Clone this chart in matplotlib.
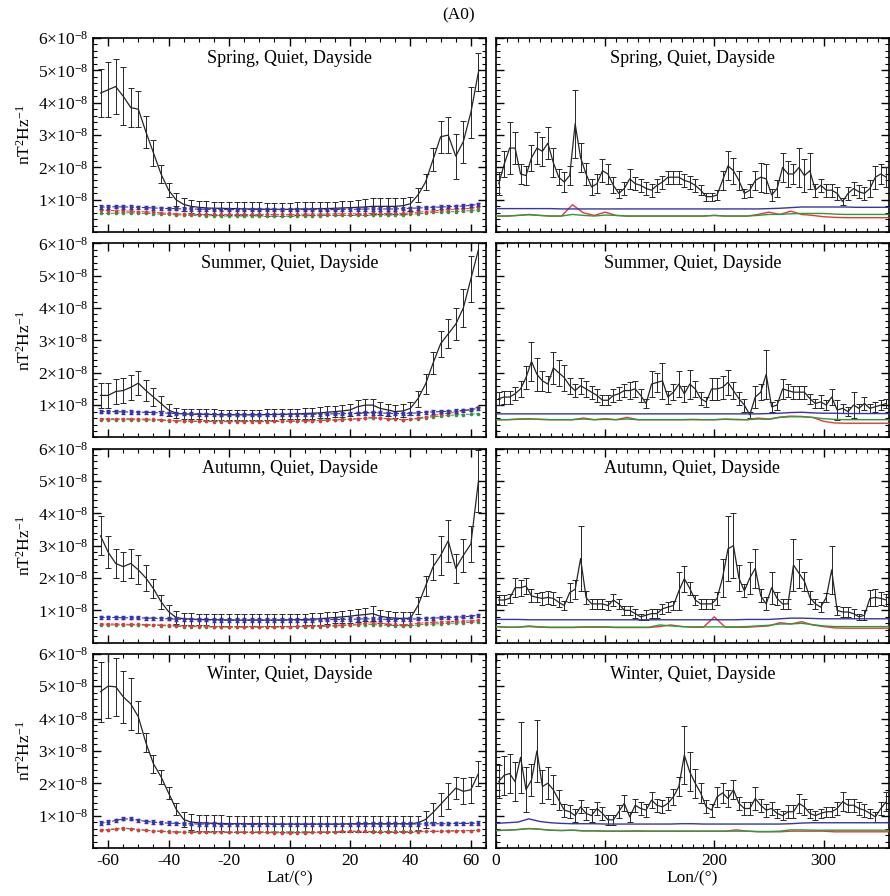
import numpy as np
import matplotlib
matplotlib.use("Agg")
import matplotlib.pyplot as plt
from matplotlib.ticker import MultipleLocator

plt.rcParams['font.family'] = ['Liberation Serif', 'DejaVu Serif']
plt.rcParams['mathtext.fontset'] = 'custom'
plt.rcParams['mathtext.rm'] = 'Liberation Serif'
plt.rcParams['mathtext.it'] = 'Liberation Serif:italic'
plt.rcParams['axes.unicode_minus'] = False

# grids
lat = np.arange(-62.5, 62.6, 2.5)      # 51 latitude bins
lon = np.arange(2.5, 360, 5)           # 72 longitude bins
lon_c = np.arange(0, 361, 10)          # coarse grid for the colored lon curves

seasons = ["Spring", "Summer", "Autumn", "Winter"]
yticks = [1, 2, 3, 4, 5, 6]            # in units of 1e-8

# ---------------- latitude profiles (1e-8 nT^2/Hz) ----------------
spring_lat_k = [4.30, 4.40, 4.50, 4.20, 3.85, 3.80, 3.10, 2.45, 1.80, 1.30,
                1.00, 0.86, 0.80, 0.77, 0.75, 0.74, 0.74, 0.73, 0.73, 0.72,
                0.72, 0.72, 0.71, 0.71, 0.71, 0.71, 0.72, 0.72, 0.72, 0.73,
                0.73, 0.74, 0.75, 0.76, 0.77, 0.78, 0.80, 0.80, 0.80, 0.80,
                0.82, 0.88, 1.15, 1.55, 2.25, 2.95, 3.00, 2.35, 2.80, 3.70,
                4.95]
spring_lat_e = [0.75, 0.85, 0.85, 0.90, 0.60, 0.55, 0.50, 0.40, 0.28, 0.22,
                0.20, 0.20, 0.20, 0.20, 0.20, 0.20, 0.20, 0.20, 0.20, 0.20,
                0.20, 0.20, 0.20, 0.20, 0.20, 0.20, 0.20, 0.20, 0.20, 0.20,
                0.20, 0.20, 0.22, 0.22, 0.22, 0.24, 0.25, 0.25, 0.25, 0.25,
                0.25, 0.22, 0.22, 0.25, 0.35, 0.50, 0.55, 0.70, 0.65, 0.80,
                0.60]
spring_lat_b = [0.78, 0.78, 0.79, 0.78, 0.78, 0.77, 0.76, 0.75, 0.74, 0.73,
                0.73, 0.72, 0.72, 0.71, 0.71, 0.70, 0.70, 0.70, 0.70, 0.70,
                0.70, 0.70, 0.70, 0.70, 0.70, 0.70, 0.70, 0.70, 0.70, 0.70,
                0.70, 0.70, 0.71, 0.71, 0.71, 0.72, 0.72, 0.72, 0.72, 0.72,
                0.73, 0.74, 0.75, 0.76, 0.77, 0.78, 0.79, 0.80, 0.81, 0.83,
                0.86]
spring_lat_r = [0.68, 0.67, 0.67, 0.66, 0.65, 0.64, 0.63, 0.62, 0.60, 0.58,
                0.57, 0.56, 0.56, 0.55, 0.55, 0.55, 0.55, 0.55, 0.55, 0.55,
                0.55, 0.55, 0.55, 0.55, 0.55, 0.55, 0.55, 0.56, 0.56, 0.56,
                0.56, 0.57, 0.57, 0.57, 0.57, 0.57, 0.58, 0.58, 0.58, 0.58,
                0.58, 0.60, 0.62, 0.64, 0.66, 0.68, 0.70, 0.71, 0.72, 0.74,
                0.78]
spring_lat_g = [0.58, 0.58, 0.59, 0.60, 0.60, 0.59, 0.58, 0.57, 0.56, 0.55,
                0.54, 0.53, 0.52, 0.52, 0.51, 0.51, 0.50, 0.50, 0.50, 0.50,
                0.50, 0.50, 0.50, 0.50, 0.50, 0.50, 0.50, 0.51, 0.51, 0.51,
                0.52, 0.52, 0.52, 0.52, 0.52, 0.52, 0.53, 0.53, 0.53, 0.53,
                0.53, 0.55, 0.57, 0.59, 0.61, 0.62, 0.63, 0.64, 0.65, 0.67,
                0.69]

summer_lat_k = [1.30, 1.30, 1.42, 1.45, 1.55, 1.68, 1.45, 1.25, 1.05, 0.85,
                0.75, 0.73, 0.72, 0.72, 0.71, 0.71, 0.70, 0.70, 0.70, 0.70,
                0.70, 0.70, 0.71, 0.71, 0.72, 0.72, 0.73, 0.74, 0.75, 0.76,
                0.78, 0.80, 0.82, 0.85, 0.95, 1.00, 1.00, 0.90, 0.85, 0.80,
                0.82, 0.90, 1.20, 1.65, 2.30, 2.90, 3.20, 3.50, 4.00, 4.90,
                5.80]
summer_lat_e = [0.38, 0.38, 0.38, 0.38, 0.38, 0.38, 0.32, 0.28, 0.22, 0.18,
                0.16, 0.16, 0.16, 0.16, 0.16, 0.16, 0.16, 0.16, 0.16, 0.16,
                0.16, 0.16, 0.16, 0.16, 0.16, 0.16, 0.16, 0.16, 0.17, 0.17,
                0.18, 0.18, 0.19, 0.19, 0.20, 0.20, 0.20, 0.20, 0.20, 0.20,
                0.20, 0.20, 0.25, 0.30, 0.35, 0.40, 0.45, 0.50, 0.60, 0.70,
                0.80]
summer_lat_b = [0.80, 0.80, 0.80, 0.79, 0.79, 0.78, 0.78, 0.77, 0.76, 0.75,
                0.74, 0.73, 0.73, 0.72, 0.72, 0.72, 0.71, 0.71, 0.71, 0.71,
                0.71, 0.71, 0.71, 0.71, 0.71, 0.71, 0.72, 0.72, 0.72, 0.72,
                0.73, 0.73, 0.74, 0.74, 0.75, 0.76, 0.76, 0.76, 0.75, 0.74,
                0.74, 0.75, 0.76, 0.78, 0.79, 0.80, 0.81, 0.82, 0.84, 0.86,
                0.90]
summer_lat_r = [0.58, 0.58, 0.58, 0.58, 0.58, 0.57, 0.57, 0.56, 0.55, 0.53,
                0.52, 0.51, 0.50, 0.50, 0.50, 0.49, 0.49, 0.49, 0.49, 0.49,
                0.49, 0.49, 0.49, 0.50, 0.50, 0.50, 0.50, 0.51, 0.51, 0.52,
                0.53, 0.54, 0.55, 0.56, 0.58, 0.60, 0.62, 0.60, 0.58, 0.56,
                0.55, 0.56, 0.60, 0.64, 0.68, 0.72, 0.75, 0.78, 0.82, 0.86,
                0.95]
summer_lat_g = [0.55, 0.55, 0.55, 0.55, 0.55, 0.55, 0.54, 0.54, 0.53, 0.52,
                0.52, 0.51, 0.51, 0.50, 0.50, 0.50, 0.50, 0.50, 0.50, 0.50,
                0.50, 0.50, 0.50, 0.50, 0.51, 0.51, 0.51, 0.52, 0.52, 0.53,
                0.54, 0.55, 0.56, 0.57, 0.58, 0.59, 0.60, 0.59, 0.58, 0.56,
                0.55, 0.56, 0.58, 0.61, 0.64, 0.66, 0.68, 0.70, 0.71, 0.72,
                0.74]

autumn_lat_k = [3.30, 2.80, 2.45, 2.35, 2.45, 2.25, 2.00, 1.67, 1.27, 0.96,
                0.78, 0.74, 0.73, 0.72, 0.72, 0.71, 0.71, 0.70, 0.70, 0.70,
                0.70, 0.70, 0.70, 0.70, 0.70, 0.71, 0.71, 0.72, 0.73, 0.74,
                0.76, 0.78, 0.80, 0.82, 0.85, 0.87, 0.90, 0.82, 0.78, 0.76,
                0.75, 0.76, 1.15, 1.75, 2.35, 2.70, 3.15, 2.30, 2.70, 3.05,
                5.00]
autumn_lat_e = [0.60, 0.50, 0.45, 0.45, 0.45, 0.45, 0.40, 0.30, 0.22, 0.20,
                0.20, 0.18, 0.18, 0.18, 0.18, 0.18, 0.18, 0.18, 0.18, 0.18,
                0.18, 0.18, 0.18, 0.18, 0.18, 0.18, 0.18, 0.18, 0.18, 0.18,
                0.18, 0.18, 0.18, 0.20, 0.20, 0.20, 0.22, 0.20, 0.20, 0.20,
                0.20, 0.20, 0.25, 0.30, 0.40, 0.60, 0.65, 0.45, 0.50, 0.55,
                0.95]
autumn_lat_b = [0.78, 0.78, 0.78, 0.77, 0.77, 0.77, 0.76, 0.76, 0.75, 0.74,
                0.73, 0.72, 0.72, 0.71, 0.71, 0.70, 0.70, 0.70, 0.70, 0.70,
                0.70, 0.70, 0.70, 0.70, 0.70, 0.70, 0.70, 0.70, 0.70, 0.71,
                0.71, 0.72, 0.72, 0.73, 0.73, 0.74, 0.74, 0.73, 0.72, 0.72,
                0.72, 0.73, 0.74, 0.75, 0.76, 0.77, 0.78, 0.79, 0.80, 0.82,
                0.85]
autumn_lat_r = [0.58, 0.58, 0.58, 0.57, 0.57, 0.57, 0.56, 0.56, 0.55, 0.54,
                0.53, 0.52, 0.52, 0.51, 0.51, 0.50, 0.50, 0.50, 0.50, 0.50,
                0.50, 0.50, 0.50, 0.50, 0.50, 0.50, 0.51, 0.51, 0.52, 0.52,
                0.53, 0.54, 0.55, 0.56, 0.58, 0.60, 0.62, 0.60, 0.58, 0.57,
                0.56, 0.57, 0.60, 0.62, 0.63, 0.64, 0.65, 0.66, 0.67, 0.68,
                0.70]
autumn_lat_g = [0.55, 0.55, 0.55, 0.55, 0.55, 0.55, 0.54, 0.54, 0.53, 0.52,
                0.51, 0.50, 0.50, 0.49, 0.49, 0.48, 0.48, 0.48, 0.48, 0.48,
                0.48, 0.48, 0.48, 0.48, 0.48, 0.49, 0.49, 0.49, 0.50, 0.50,
                0.51, 0.52, 0.53, 0.54, 0.55, 0.56, 0.56, 0.55, 0.54, 0.53,
                0.52, 0.53, 0.55, 0.57, 0.58, 0.59, 0.60, 0.61, 0.62, 0.63,
                0.65]

winter_lat_k = [4.83, 5.00, 4.98, 4.67, 4.45, 4.05, 3.25, 2.60, 2.20, 1.70,
                1.20, 0.88, 0.80, 0.78, 0.77, 0.76, 0.76, 0.75, 0.75, 0.75,
                0.75, 0.75, 0.75, 0.74, 0.74, 0.74, 0.74, 0.74, 0.74, 0.74,
                0.74, 0.74, 0.74, 0.75, 0.75, 0.75, 0.75, 0.75, 0.75, 0.75,
                0.75, 0.75, 0.78, 0.88, 1.10, 1.35, 1.60, 1.85, 1.75, 1.80,
                2.30]
winter_lat_e = [0.93, 0.98, 0.90, 0.80, 0.80, 0.50, 0.30, 0.28, 0.22, 0.18,
                0.18, 0.22, 0.24, 0.25, 0.25, 0.25, 0.25, 0.25, 0.25, 0.25,
                0.25, 0.25, 0.25, 0.25, 0.25, 0.25, 0.25, 0.25, 0.25, 0.25,
                0.25, 0.25, 0.25, 0.25, 0.25, 0.25, 0.25, 0.25, 0.25, 0.25,
                0.25, 0.25, 0.22, 0.25, 0.30, 0.35, 0.40, 0.35, 0.40, 0.40,
                0.40]
winter_lat_b = [0.77, 0.80, 0.85, 0.90, 0.90, 0.86, 0.82, 0.80, 0.78, 0.77,
                0.76, 0.75, 0.75, 0.74, 0.74, 0.74, 0.73, 0.73, 0.73, 0.73,
                0.73, 0.73, 0.73, 0.73, 0.73, 0.73, 0.73, 0.73, 0.73, 0.73,
                0.73, 0.73, 0.73, 0.73, 0.74, 0.74, 0.74, 0.74, 0.74, 0.74,
                0.74, 0.74, 0.74, 0.75, 0.75, 0.75, 0.75, 0.76, 0.76, 0.76,
                0.77]
winter_lat_r = [0.55, 0.57, 0.60, 0.62, 0.60, 0.57, 0.55, 0.53, 0.51, 0.50,
                0.49, 0.48, 0.48, 0.48, 0.48, 0.48, 0.48, 0.48, 0.48, 0.48,
                0.48, 0.48, 0.48, 0.47, 0.46, 0.46, 0.46, 0.47, 0.48, 0.48,
                0.49, 0.50, 0.51, 0.52, 0.52, 0.51, 0.50, 0.50, 0.50, 0.50,
                0.50, 0.50, 0.50, 0.51, 0.51, 0.52, 0.52, 0.53, 0.53, 0.54,
                0.55]
winter_lat_g = [0.55, 0.56, 0.58, 0.60, 0.59, 0.57, 0.55, 0.53, 0.52, 0.51,
                0.50, 0.50, 0.50, 0.50, 0.50, 0.50, 0.50, 0.50, 0.50, 0.50,
                0.50, 0.50, 0.50, 0.50, 0.50, 0.50, 0.50, 0.50, 0.50, 0.50,
                0.50, 0.50, 0.51, 0.51, 0.51, 0.51, 0.51, 0.51, 0.51, 0.51,
                0.51, 0.51, 0.51, 0.52, 0.52, 0.52, 0.53, 0.53, 0.54, 0.54,
                0.55]
blue_lat_err = 0.05

# ---------------- longitude profiles ----------------
spring_lon_k = [1.50, 2.10, 2.60, 2.60, 1.80, 1.75, 2.30, 2.60, 2.50, 2.75,
                2.15, 1.70, 1.55, 1.75, 3.35, 2.30, 1.80, 1.40, 1.50, 1.90,
                1.80, 1.45, 1.20, 1.35, 1.65, 1.50, 1.45, 1.35, 1.30, 1.45,
                1.55, 1.70, 1.70, 1.70, 1.60, 1.55, 1.45, 1.30, 1.10, 1.10,
                1.15, 1.60, 2.05, 1.90, 1.60, 1.20, 1.30, 1.60, 1.70, 1.65,
                1.15, 1.35, 2.00, 1.80, 1.80, 2.00, 1.75, 1.90, 1.30, 1.45,
                1.30, 1.30, 1.20, 0.95, 1.20, 1.35, 1.25, 1.20, 1.35, 1.70,
                1.80, 1.70]
spring_lon_e = [0.35, 0.40, 0.80, 0.50, 0.30, 0.30, 0.40, 0.50, 0.45, 0.50,
                0.45, 0.25, 0.30, 0.30, 1.05, 0.45, 0.35, 0.25, 0.30, 0.35,
                0.30, 0.25, 0.15, 0.20, 0.30, 0.20, 0.20, 0.20, 0.20, 0.20,
                0.20, 0.20, 0.20, 0.20, 0.20, 0.20, 0.20, 0.15, 0.12, 0.12,
                0.15, 0.30, 0.45, 0.40, 0.30, 0.15, 0.20, 0.30, 0.45, 0.45,
                0.20, 0.25, 0.45, 0.40, 0.30, 0.60, 0.50, 0.55, 0.20, 0.20,
                0.20, 0.20, 0.20, 0.10, 0.20, 0.20, 0.20, 0.20, 0.25, 0.35,
                0.30, 0.30]
spring_lon_b = [0.73, 0.73, 0.73, 0.73, 0.73, 0.73, 0.72, 0.72, 0.72, 0.72,
                0.72, 0.72, 0.72, 0.72, 0.72, 0.72, 0.72, 0.72, 0.72, 0.72,
                0.72, 0.72, 0.72, 0.72, 0.72, 0.73, 0.74, 0.76, 0.78, 0.78,
                0.78, 0.78, 0.78, 0.77, 0.77, 0.77, 0.77]
spring_lon_r = [0.50, 0.50, 0.52, 0.55, 0.52, 0.50, 0.50, 0.85, 0.60, 0.52,
                0.62, 0.52, 0.50, 0.50, 0.50, 0.50, 0.50, 0.50, 0.50, 0.50,
                0.52, 0.50, 0.50, 0.50, 0.55, 0.62, 0.55, 0.65, 0.55, 0.52,
                0.48, 0.46, 0.45, 0.45, 0.45, 0.45, 0.45]
spring_lon_g = [0.50, 0.50, 0.52, 0.54, 0.52, 0.50, 0.50, 0.55, 0.52, 0.50,
                0.53, 0.52, 0.50, 0.50, 0.50, 0.50, 0.50, 0.50, 0.50, 0.50,
                0.52, 0.50, 0.50, 0.50, 0.52, 0.55, 0.55, 0.57, 0.58, 0.58,
                0.58, 0.56, 0.55, 0.55, 0.55, 0.55, 0.55]

summer_lon_k = [1.20, 1.25, 1.25, 1.35, 1.50, 1.85, 2.35, 1.95, 1.75, 1.65,
                2.15, 2.00, 1.85, 1.60, 1.45, 1.60, 1.50, 1.40, 1.30, 1.15,
                1.15, 1.30, 1.35, 1.45, 1.45, 1.50, 1.30, 1.05, 1.65, 1.70,
                1.75, 1.25, 1.40, 1.65, 1.35, 1.65, 1.50, 1.20, 1.10, 1.50,
                1.50, 1.55, 1.70, 1.45, 1.20, 1.00, 0.70, 1.25, 1.40, 1.95,
                0.95, 1.00, 1.50, 1.45, 1.40, 1.40, 1.40, 1.20, 1.05, 1.10,
                1.00, 1.25, 0.85, 0.90, 0.80, 1.00, 0.90, 1.05, 0.90, 0.95,
                1.00, 1.05]
summer_lon_e = [0.20, 0.20, 0.20, 0.20, 0.25, 0.35, 0.60, 0.50, 0.30, 0.25,
                0.50, 0.40, 0.40, 0.25, 0.20, 0.25, 0.25, 0.20, 0.20, 0.15,
                0.15, 0.20, 0.20, 0.20, 0.25, 0.25, 0.20, 0.15, 0.40, 0.30,
                0.55, 0.20, 0.25, 0.40, 0.25, 0.45, 0.25, 0.20, 0.15, 0.35,
                0.35, 0.35, 0.40, 0.25, 0.20, 0.20, 0.10, 0.35, 0.25, 0.75,
                0.15, 0.15, 0.30, 0.20, 0.20, 0.20, 0.20, 0.15, 0.15, 0.20,
                0.15, 0.25, 0.30, 0.15, 0.15, 0.40, 0.15, 0.20, 0.15, 0.15,
                0.15, 0.15]
summer_lon_b = [0.73, 0.73, 0.73, 0.73, 0.73, 0.73, 0.73, 0.73, 0.73, 0.73,
                0.73, 0.73, 0.73, 0.73, 0.73, 0.73, 0.73, 0.73, 0.73, 0.73,
                0.73, 0.73, 0.73, 0.73, 0.73, 0.74, 0.75, 0.77, 0.78, 0.76,
                0.75, 0.75, 0.74, 0.74, 0.74, 0.74, 0.74]
summer_lon_r = [0.55, 0.55, 0.57, 0.58, 0.56, 0.55, 0.55, 0.55, 0.60, 0.55,
                0.58, 0.55, 0.62, 0.55, 0.55, 0.55, 0.55, 0.55, 0.56, 0.55,
                0.55, 0.57, 0.56, 0.55, 0.60, 0.57, 0.63, 0.66, 0.65, 0.62,
                0.50, 0.45, 0.44, 0.44, 0.44, 0.44, 0.44]
summer_lon_g = [0.55, 0.55, 0.56, 0.57, 0.56, 0.55, 0.55, 0.55, 0.57, 0.55,
                0.56, 0.55, 0.57, 0.55, 0.55, 0.55, 0.55, 0.55, 0.55, 0.55,
                0.55, 0.56, 0.55, 0.55, 0.57, 0.56, 0.62, 0.64, 0.64, 0.62,
                0.58, 0.56, 0.55, 0.55, 0.55, 0.55, 0.55]

autumn_lon_k = [1.32, 1.32, 1.37, 1.70, 1.70, 1.75, 1.45, 1.40, 1.37, 1.40,
                1.37, 1.25, 1.15, 1.55, 1.65, 2.60, 1.40, 1.20, 1.20, 1.20,
                1.15, 1.32, 1.20, 1.00, 1.00, 0.90, 0.80, 0.85, 0.90, 0.90,
                1.05, 1.10, 1.15, 1.60, 1.98, 1.68, 1.32, 1.20, 1.20, 1.20,
                1.37, 2.00, 2.90, 3.00, 2.00, 1.60, 2.00, 2.30, 1.45, 1.20,
                1.70, 1.37, 1.20, 1.20, 2.40, 2.15, 1.90, 1.40, 1.20, 1.10,
                1.40, 2.25, 1.00, 0.95, 0.95, 0.90, 0.80, 0.85, 1.37, 1.40,
                1.37, 1.32]
autumn_lon_e = [0.15, 0.15, 0.15, 0.30, 0.25, 0.25, 0.20, 0.15, 0.20, 0.20,
                0.20, 0.15, 0.15, 0.30, 0.30, 1.00, 0.20, 0.15, 0.15, 0.15,
                0.15, 0.20, 0.15, 0.15, 0.15, 0.15, 0.10, 0.15, 0.15, 0.15,
                0.15, 0.15, 0.15, 0.60, 0.40, 0.20, 0.15, 0.15, 0.15, 0.15,
                0.20, 0.60, 1.00, 1.00, 0.40, 0.20, 0.50, 0.60, 0.20, 0.20,
                0.50, 0.20, 0.15, 0.15, 0.80, 0.45, 0.30, 0.20, 0.15, 0.15,
                0.15, 0.75, 0.15, 0.15, 0.15, 0.15, 0.10, 0.15, 0.25, 0.25,
                0.20, 0.20]
autumn_lon_b = [0.72, 0.72, 0.72, 0.71, 0.71, 0.71, 0.71, 0.71, 0.71, 0.71,
                0.71, 0.71, 0.71, 0.71, 0.71, 0.71, 0.71, 0.71, 0.71, 0.71,
                0.71, 0.71, 0.71, 0.72, 0.72, 0.72, 0.74, 0.76, 0.76, 0.75,
                0.74, 0.74, 0.74, 0.74, 0.74, 0.74, 0.74]
autumn_lon_r = [0.50, 0.48, 0.48, 0.50, 0.48, 0.47, 0.47, 0.47, 0.48, 0.48,
                0.48, 0.47, 0.47, 0.47, 0.47, 0.50, 0.55, 0.50, 0.48, 0.48,
                0.80, 0.48, 0.48, 0.48, 0.50, 0.52, 0.62, 0.58, 0.65, 0.55,
                0.50, 0.46, 0.45, 0.45, 0.45, 0.45, 0.45]
autumn_lon_g = [0.50, 0.48, 0.48, 0.52, 0.49, 0.48, 0.48, 0.48, 0.49, 0.49,
                0.49, 0.48, 0.48, 0.48, 0.48, 0.55, 0.52, 0.50, 0.49, 0.49,
                0.49, 0.49, 0.49, 0.50, 0.52, 0.54, 0.58, 0.58, 0.60, 0.56,
                0.52, 0.50, 0.50, 0.50, 0.50, 0.50, 0.50]

winter_lon_k = [2.05, 2.25, 2.30, 2.05, 2.80, 1.80, 2.10, 3.00, 1.90, 2.00,
                1.80, 1.48, 1.17, 1.12, 1.00, 1.27, 1.07, 1.00, 1.22, 1.07,
                0.87, 0.87, 1.12, 1.38, 0.96, 1.32, 1.22, 1.17, 1.48, 1.32,
                1.27, 1.38, 1.58, 1.90, 2.87, 2.35, 2.00, 1.70, 1.27, 1.17,
                1.58, 1.70, 1.53, 1.80, 1.38, 1.22, 1.22, 1.53, 1.32, 1.17,
                1.22, 1.07, 1.00, 1.12, 1.12, 1.38, 1.27, 1.07, 1.00, 1.07,
                1.12, 1.12, 1.22, 1.43, 1.32, 1.32, 1.22, 1.17, 1.07, 0.96,
                1.22, 1.43]
winter_lon_e = [0.50, 0.60, 0.60, 0.60, 1.10, 0.70, 0.50, 0.95, 0.50, 0.50,
                0.45, 0.30, 0.20, 0.20, 0.20, 0.20, 0.20, 0.20, 0.20, 0.20,
                0.15, 0.15, 0.20, 0.25, 0.15, 0.20, 0.20, 0.20, 0.25, 0.20,
                0.20, 0.20, 0.25, 0.30, 0.90, 0.60, 0.45, 0.30, 0.20, 0.20,
                0.30, 0.30, 0.25, 0.30, 0.20, 0.20, 0.20, 0.35, 0.20, 0.20,
                0.20, 0.15, 0.15, 0.20, 0.20, 0.30, 0.25, 0.15, 0.15, 0.15,
                0.15, 0.15, 0.20, 0.30, 0.20, 0.20, 0.20, 0.20, 0.15, 0.15,
                0.20, 0.30]
winter_lon_b = [0.76, 0.78, 0.80, 0.90, 0.82, 0.78, 0.76, 0.75, 0.75, 0.75,
                0.74, 0.74, 0.74, 0.74, 0.74, 0.74, 0.74, 0.75, 0.75, 0.74,
                0.74, 0.74, 0.74, 0.74, 0.74, 0.74, 0.74, 0.75, 0.77, 0.78,
                0.78, 0.78, 0.78, 0.78, 0.78, 0.78, 0.78]
winter_lon_r = [0.54, 0.55, 0.57, 0.60, 0.58, 0.55, 0.54, 0.55, 0.53, 0.53,
                0.52, 0.52, 0.52, 0.52, 0.52, 0.52, 0.52, 0.52, 0.52, 0.52,
                0.52, 0.52, 0.56, 0.52, 0.50, 0.50, 0.50, 0.52, 0.52, 0.52,
                0.52, 0.50, 0.50, 0.50, 0.50, 0.50, 0.50]
winter_lon_g = [0.54, 0.55, 0.57, 0.60, 0.58, 0.55, 0.54, 0.55, 0.53, 0.53,
                0.52, 0.52, 0.52, 0.53, 0.52, 0.52, 0.52, 0.52, 0.52, 0.52,
                0.52, 0.52, 0.52, 0.52, 0.51, 0.51, 0.52, 0.56, 0.56, 0.55,
                0.55, 0.55, 0.55, 0.55, 0.55, 0.55, 0.55]

lat_data = [
    (spring_lat_k, spring_lat_e, spring_lat_b, spring_lat_r, spring_lat_g),
    (summer_lat_k, summer_lat_e, summer_lat_b, summer_lat_r, summer_lat_g),
    (autumn_lat_k, autumn_lat_e, autumn_lat_b, autumn_lat_r, autumn_lat_g),
    (winter_lat_k, winter_lat_e, winter_lat_b, winter_lat_r, winter_lat_g),
]
lon_data = [
    (spring_lon_k, spring_lon_e, spring_lon_b, spring_lon_r, spring_lon_g),
    (summer_lon_k, summer_lon_e, summer_lon_b, summer_lon_r, summer_lon_g),
    (autumn_lon_k, autumn_lon_e, autumn_lon_b, autumn_lon_r, autumn_lon_g),
    (winter_lon_k, winter_lon_e, winter_lon_b, winter_lon_r, winter_lon_g),
]

BLACK = "#262626"
BLUE = "#3535a8"
RED = "#e23a3a"
GREEN = "#2f9a3a"

fig, axes = plt.subplots(4, 2, figsize=(8.9, 8.96), dpi=100,
                         sharey=True, sharex='col')
fig.subplots_adjust(left=93/890, right=889/890, top=1-38/896, bottom=1-848/896,
                    wspace=10/393, hspace=11/194)


def style_axis(ax):
    ax.set_ylim(0, 6)
    ax.set_yticks(yticks)
    ax.set_yticklabels([f"{v}×10$^{{-8}}$" for v in yticks])
    ax.yaxis.set_minor_locator(MultipleLocator(0.2))
    ax.tick_params(which='both', direction='in', top=True, right=True,
                   labelsize=12.5, colors='black')
    ax.tick_params(which='major', length=6, width=1)
    ax.tick_params(which='minor', length=3, width=0.8)
    for s in ax.spines.values():
        s.set_linewidth(1.2)


for row in range(4):
    axl = axes[row, 0]
    axr = axes[row, 1]
    k, e, b, r, g = lat_data[row]

    # latitude panel
    axl.errorbar(lat, k, yerr=e, color=BLACK, lw=0.9, elinewidth=0.7,
                 capsize=2.2, capthick=0.7, zorder=3)
    axl.plot(lat, g, color=GREEN, lw=0.7, ls='--', marker='o', ms=1.6, zorder=4)
    axl.plot(lat, r, color=RED, lw=0.7, ls='--', marker='o', ms=1.6, zorder=4)
    axl.errorbar(lat, b, yerr=blue_lat_err, color=BLUE, lw=0.8, ls='--',
                 marker='o', ms=1.6, elinewidth=0.6, capsize=1.2, zorder=5)
    axl.set_xlim(-65, 65)
    axl.set_xticks([-60, -40, -20, 0, 20, 40, 60])
    axl.xaxis.set_minor_locator(MultipleLocator(5))
    style_axis(axl)
    axl.set_ylabel("nT$^2$Hz$^{-1}$", fontsize=12.5, labelpad=3)
    axl.text(0.5, 0.895, f"{seasons[row]}, Quiet, Dayside",
             transform=axl.transAxes, ha='center', va='center', fontsize=13)

    # longitude panel
    k, e, b, r, g = lon_data[row]
    axr.errorbar(lon, k, yerr=e, color=BLACK, lw=0.9, elinewidth=0.7,
                 capsize=2.2, capthick=0.7, zorder=3)
    axr.plot(lon_c, r, color=RED, lw=1.0, zorder=4)
    axr.plot(lon_c, g, color=GREEN, lw=1.0, zorder=4)
    axr.plot(lon_c, b, color=BLUE, lw=1.0, zorder=5)
    axr.set_xlim(0, 360)
    axr.set_xticks([0, 100, 200, 300])
    axr.xaxis.set_minor_locator(MultipleLocator(10))
    style_axis(axr)
    axr.text(0.5, 0.895, f"{seasons[row]}, Quiet, Dayside",
             transform=axr.transAxes, ha='center', va='center', fontsize=13)

axes[3, 0].set_xlabel("Lat/(°)", fontsize=12.5, labelpad=1)
axes[3, 1].set_xlabel("Lon/(°)", fontsize=12.5, labelpad=1)

fig.text(0.515, 0.983, "(A0)", ha='center', va='center', fontsize=12.5)

fig.savefig("out.png", dpi=100)
